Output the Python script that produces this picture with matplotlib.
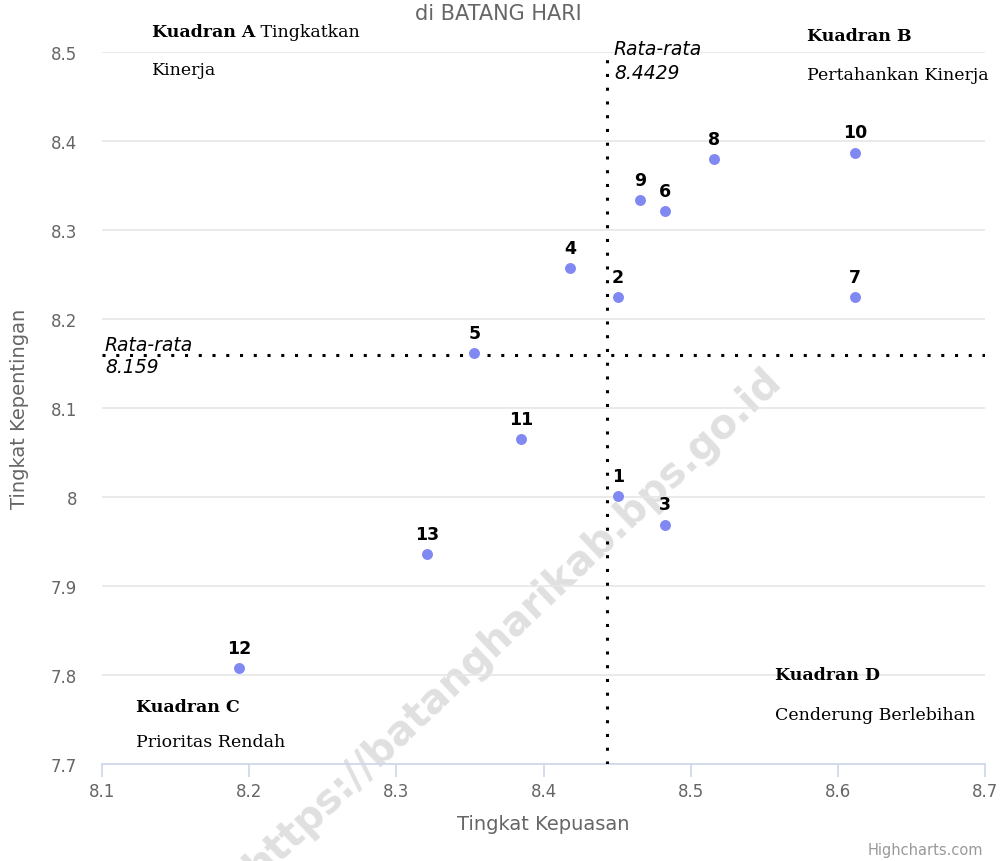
import matplotlib
matplotlib.use("Agg")
from matplotlib import pyplot as plt

# data
atribut = ['1', '2', '3', '4', '5', '6', '7', '8', '9', '10', '11', '12', '13']
kepuasan = [8.4505, 8.4505, 8.4825, 8.418, 8.353, 8.4825, 8.6115, 8.5158, 8.4655, 8.6115, 8.385, 8.193, 8.321]
kepentingan = [8.001, 8.225, 7.969, 8.257, 8.162, 8.321, 8.225, 8.380, 8.334, 8.387, 8.065, 7.808, 7.936]
rata_x = 8.4429
rata_y = 8.159
x_ticks = [8.1, 8.2, 8.3, 8.4, 8.5, 8.6, 8.7]
y_ticks = [7.7, 7.8, 7.9, 8.0, 8.1, 8.2, 8.3, 8.4, 8.5]
y_ticklabels = ['7.7', '7.8', '7.9', '8', '8.1', '8.2', '8.3', '8.4', '8.5']

W, H = 1003, 862
fig = plt.figure(figsize=(W / 100, H / 100), dpi=100)
ax = fig.add_axes([102 / W, 1 - 765 / H, (985 - 102) / W, (765 - 53) / H])

grey = '#666666'
serif = 'DejaVu Serif'
qsize = 12.5

# watermark, behind the axes
fig.text(513 / W, 1 - 624 / H, 'https://batangharikab.bps.go.id', rotation=43.5,
         rotation_mode='anchor', ha='center', va='center', fontsize=29,
         fontweight='bold', color='#e0e0e0', zorder=-1)

ax.set_xlim(8.1, 8.7)
ax.set_ylim(7.7, 8.5)
ax.patch.set_alpha(0)
ax.set_xticks(x_ticks)
ax.set_xticklabels([str(v) for v in x_ticks])
ax.set_yticks(y_ticks)
ax.set_yticklabels(y_ticklabels)
ax.grid(axis='y', color='#e6e6e6', lw=1.2)
ax.set_axisbelow(True)
for s in ['top', 'right', 'left']:
    ax.spines[s].set_visible(False)
ax.spines['bottom'].set_color('#ccd6eb')
ax.spines['bottom'].set_linewidth(1.2)
ax.tick_params(axis='x', colors='#ccd6eb', length=9, width=1.2, labelcolor=grey,
               labelsize=12, pad=4)
ax.tick_params(axis='y', length=0, labelcolor=grey, labelsize=12, pad=18)

ax.set_xlabel('Tingkat Kepuasan', color=grey, fontsize=14, labelpad=10)
ax.set_ylabel('Tingkat Kepentingan', color=grey, fontsize=14)
ax.yaxis.set_label_coords(-0.083, 0.5)

# mean lines
ax.axvline(rata_x, color='black', lw=2.2, ls=(0, (1, 3.5)), zorder=3)
ax.axhline(rata_y, color='black', lw=2.2, ls=(0, (1, 3.5)), zorder=3)
ax.text(rata_x + 0.005, 8.5 - 0.0095, 'Rata-rata\n' + str(rata_x), fontstyle='italic',
        fontsize=13.5, va='center', ha='left', linespacing=1.35, clip_on=False)
ax.text(8.1 + 0.002, rata_y, 'Rata-rata\n' + str(rata_y), fontstyle='italic',
        fontsize=13.5, va='center', ha='left', linespacing=1.25)

# points
ax.scatter(kepuasan, kepentingan, s=62, color='#8088f2', zorder=4, linewidths=0)
for lab, x, y in zip(atribut, kepuasan, kepentingan):
    ax.annotate(lab, (x, y), xytext=(0, 8), textcoords='offset points', ha='center',
                va='bottom', fontsize=12.5, fontweight='bold', color='black', zorder=5)

# quadrant labels
qa = ax.text(8.134, 8.5225, 'Kuadran A', fontfamily=serif, fontweight='bold',
             fontsize=qsize, va='center', clip_on=False)
ax.annotate(' Tingkatkan', xy=(1, 0), xycoords=qa, va='bottom', fontfamily=serif,
            fontsize=qsize, annotation_clip=False)
ax.text(8.134, 8.48, 'Kinerja', fontfamily=serif, fontsize=qsize, va='center')
ax.text(8.579, 8.519, 'Kuadran B', fontfamily=serif, fontweight='bold', fontsize=qsize,
        va='center', clip_on=False)
ax.text(8.579, 8.475, 'Pertahankan Kinerja', fontfamily=serif, fontsize=qsize,
        va='center', clip_on=False)
ax.text(8.123, 7.765, 'Kuadran C', fontfamily=serif, fontweight='bold', fontsize=qsize,
        va='center')
ax.text(8.123, 7.725, 'Prioritas Rendah', fontfamily=serif, fontsize=qsize, va='center')
ax.text(8.557, 7.801, 'Kuadran D', fontfamily=serif, fontweight='bold', fontsize=qsize,
        va='center')
ax.text(8.557, 7.756, 'Cenderung Berlebihan', fontfamily=serif, fontsize=qsize,
        va='center')

fig.text(498 / W, 1 - 14 / H, 'di BATANG HARI', ha='center', va='center', color=grey,
         fontsize=15)
fig.text(983 / W, 1 - 851 / H, 'Highcharts.com', ha='right', va='center',
         color='#999999', fontsize=10.5)

fig.savefig('out.png', dpi=100)
